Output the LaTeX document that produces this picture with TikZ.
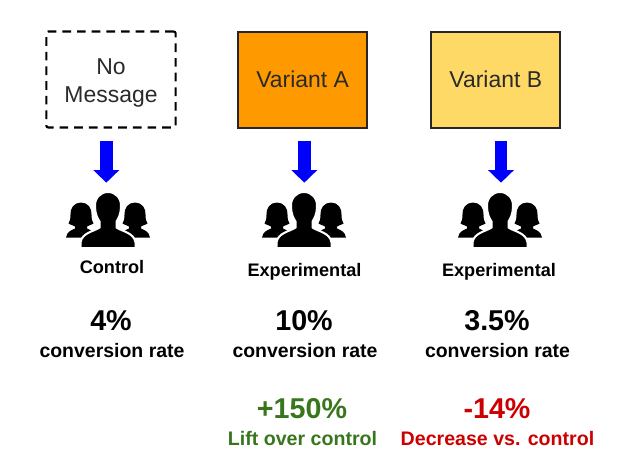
\documentclass[tikz,border=0pt]{standalone}
\usepackage{fontspec}
\setmainfont{Liberation Sans}
\usetikzlibrary{arrows.meta}
\definecolor{orangefill}{HTML}{FF9900}
\definecolor{yellowfill}{HTML}{FFD966}
\definecolor{liftgreen}{HTML}{38761D}
\definecolor{dropred}{HTML}{CC0000}
\definecolor{boxtext}{HTML}{2A2A2A}
\tikzset{
  x=0.75pt,y=-0.75pt,
  msgbox/.style={draw=black!85,line width=1.5pt,minimum width=97pt,minimum height=72pt,inner sep=0pt,
    align=center,text=boxtext,font=\fontsize{17.2}{21}\selectfont},
  blockarrow/.style={draw=blue,line width=9.5pt,-{Triangle[length=9.5pt,width=19pt]},shorten <=9.2pt,shorten >=7.3pt},
  grouplabel/.style={font=\bfseries\fontsize{13.6}{16}\selectfont,text=black,inner sep=0pt},
  ratebig/.style={font=\bfseries\fontsize{21.5}{24}\selectfont,inner sep=0pt},
  ratesmall/.style={font=\bfseries\fontsize{14.6}{17}\selectfont,inner sep=0pt},
  notesmall/.style={font=\bfseries\fontsize{14.7}{17}\selectfont,inner sep=0pt},
  iconspot/.style={minimum width=63pt,minimum height=41pt,inner sep=0pt},
  pics/sideperson/.style={code={
    \fill[black] (0,-14) .. controls (7,-14) and (11,-8) .. (10.5,-2)
      .. controls (10.5,2) and (11,5) .. (12.5,7) .. controls (9,9) and (7,9) .. (6,10)
      -- (6,12) .. controls (10,14) and (14,15) .. (15,21) -- (-15,21)
      .. controls (-14,15) and (-10,14) .. (-6,12) -- (-6,10)
      .. controls (-7,9) and (-9,9) .. (-12.5,7) .. controls (-11,5) and (-10.5,2) .. (-10.5,-2)
      .. controls (-11,-8) and (-7,-14) .. (0,-14) -- cycle;
  }},
  pics/people/.style={code={
    \pic at (-27,10) {sideperson};
    \begin{scope}[xscale=-1]\pic at (-27,10) {sideperson};\end{scope}
    \fill[black,draw=white,line width=1.5pt]
      (0,-14.5) .. controls (8,-14.5) and (13.5,-8) .. (13,0)
      .. controls (13,7) and (10.5,12) .. (8.5,15) -- (8.5,21)
      .. controls (14,25) and (26,26) .. (27.5,36) -- (27.5,41.5) -- (-27.5,41.5) -- (-27.5,36)
      .. controls (-26,26) and (-14,25) .. (-8.5,21) -- (-8.5,15)
      .. controls (-10.5,12) and (-13,7) .. (-13,0)
      .. controls (-13.5,-8) and (-8,-14.5) .. (0,-14.5) -- cycle;
  }}
}
\begin{document}
\begin{tikzpicture}
\useasboundingbox (0,0) rectangle (632,469);
\node[msgbox,dash pattern=on 6.5pt off 4.5pt,line width=1.6pt,draw=black,rounded corners=1.5pt] (boxn) at (111,79.5) {\rule{0pt}{17pt}No\\Message};
\node[msgbox,fill=orangefill] (boxa) at (302.6,79.5) {Variant A};
\node[msgbox,fill=yellowfill] (boxb) at (495.8,79.5) {Variant B};
\node[iconspot] (peoplen) at (108,220) {};
\node[iconspot] (peoplea) at (304,220) {};
\node[iconspot] (peopleb) at (500,220) {};
\pic at (108,206.5) {people};
\pic at (304,206.5) {people};
\pic at (500,206.5) {people};
\coordinate (an) at (106.3,160);
\coordinate (aa) at (304.3,160);
\coordinate (ab) at (501,160);
\draw[blockarrow] (boxn.south -| an) -- (peoplen.north -| an);
\draw[blockarrow] (boxa.south -| aa) -- (peoplea.north -| aa);
\draw[blockarrow] (boxb.south -| ab) -- (peopleb.north -| ab);
\node[grouplabel] (ln) at (112,267) {Control};
\node[grouplabel] (la) at (304.5,272) {Experimental};
\node[grouplabel] (lb) at (499,272) {Experimental};
\node[ratebig] (rn) at (111,321) {4\%};
\node[ratebig] (ra) at (304,321) {10\%};
\node[ratebig] (rb) at (497,321) {3.5\%};
\node[ratesmall] (cn) at (112,351) {conversion rate};
\node[ratesmall] (ca) at (305,351) {conversion rate};
\node[ratesmall] (cb) at (497.5,351) {conversion rate};
\node[ratebig,text=liftgreen] (da) at (302,409) {+150\%};
\node[ratebig,text=dropred] (db) at (497,409) {-14\%};
\node[notesmall,text=liftgreen] (na) at (302.5,438) {Lift over control};
\node[notesmall,text=dropred] (nb) at (497.5,438) {Decrease vs. control};
\end{tikzpicture}
\end{document}
